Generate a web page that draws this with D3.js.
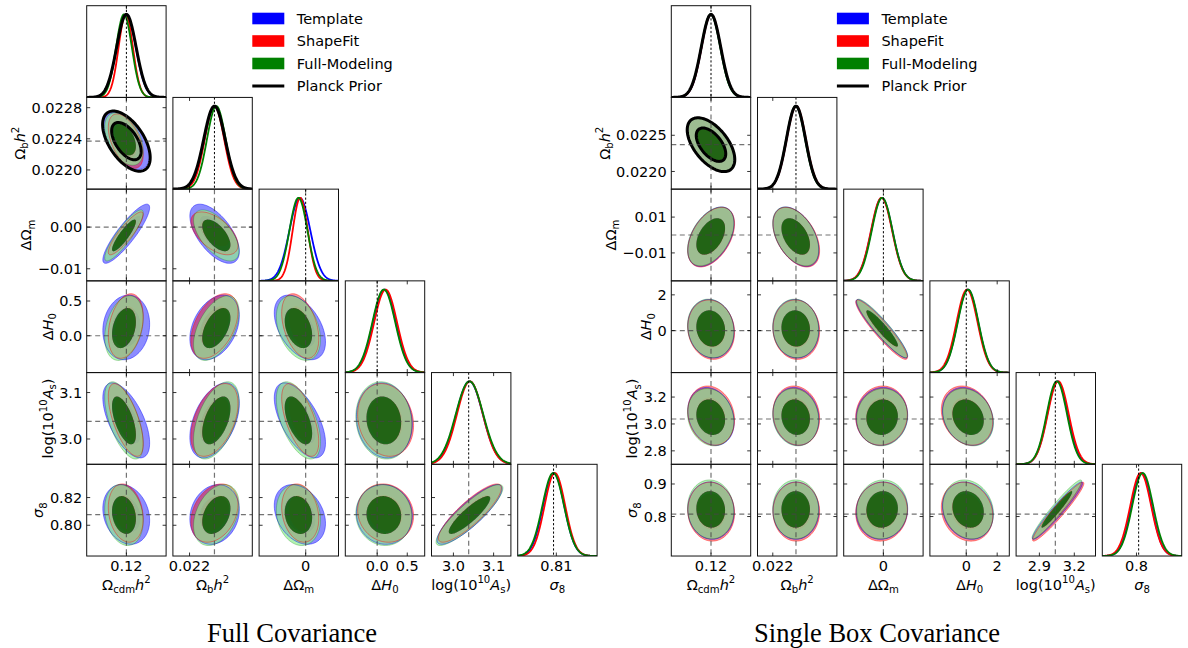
<!DOCTYPE html>
<html><head><meta charset="utf-8">
<script src="https://cdn.jsdelivr.net/npm/d3@7"></script>
<style>body{margin:0;background:#fff} svg{display:block} text{font-family:"DejaVu Sans",sans-serif}</style>
</head><body><svg id="c" width="1188" height="648"></svg>
<script>
// ================= DATA =================
const paramLabels = [
  [["Ω",""],["cdm","sub"],["h","i"],["2","sup"]],
  [["Ω",""],["b","sub"],["h","i"],["2","sup"]],
  [["ΔΩ",""],["m","sub"]],
  [["Δ",""],["H","i"],["0","sub"]],
  [["log(10",""],["10","sup"],["A","i"],["s","sub"],[")",""]],
  [["σ","i"],["8","sub"]]
];
const seriesNames = ["Template", "ShapeFit", "Full-Modeling"];
const seriesColors = ["#0000ff", "#ff0000", "#008000"];
const priorName = "Planck Prior";
// correlation pair order: (0,1),(0,2),(0,3),(0,4),(0,5),(1,2),(1,3),(1,4),(1,5),(2,3),(2,4),(2,5),(3,4),(3,5),(4,5)

// ---- Full Covariance ----
const fullRange = [[0.1151, 0.1249], [0.021753, 0.022932], [-0.0129, 0.0091], [-0.53, 0.79], [2.9455, 3.143], [0.7778, 0.844]];
const fullFiducial = [0.12, 0.02237, 0.0, 0.0, 3.038, 0.8077];
const fullXTicks = [[0.12], [0.022], [0], [0, 0.5], [3.0, 3.1], [0.81]];
const fullXTickLabels = [["0.12"], ["0.022"], ["0"], ["0.0", "0.5"], ["3.0", "3.1"], ["0.81"]];
const fullYTicks = [[], [0.0220, 0.0224, 0.0228], [-0.01, 0.0], [0.0, 0.5], [3.0, 3.1], [0.80, 0.82]];
const fullYTickLabels = [[], ["0.0220", "0.0224", "0.0228"], ["\u22120.01", "0.00"], ["0.0", "0.5"], ["3.0", "3.1"], ["0.80", "0.82"]];
const fullMeanTemplate = [0.11998, 0.022372, -0.0016, 0.12, 3.040, 0.8078];
const fullMeanShapeFit = [0.11992, 0.022370, -0.0015, 0.14, 3.041, 0.8088];
const fullMeanFullModeling = [0.11970, 0.022398, -0.0020, 0.11, 3.040, 0.8074];
const fullSigmaTemplate = [0.00118, 0.000150, 0.0029, 0.19, 0.033, 0.0088];
const fullSigmaShapeFit = [0.00088, 0.000143, 0.0021, 0.19, 0.032, 0.0086];
const fullSigmaFullModeling = [0.00097, 0.000138, 0.0025, 0.19, 0.034, 0.0090];
const fullCorrTemplate = [-0.5, 0.88, 0.1, -0.6, -0.2, -0.6, 0.35, 0.45, 0.15, -0.45, -0.6, -0.3, -0.1, -0.05, 0.86];
const fullCorrShapeFit = [-0.5, 0.88, 0.3, -0.65, -0.2, -0.55, 0.45, 0.45, 0.3, -0.4, -0.6, -0.2, -0.15, -0.1, 0.86];
const fullCorrFullModeling = [-0.45, 0.88, 0.3, -0.6, -0.2, -0.6, 0.5, 0.5, 0.35, -0.35, -0.55, -0.15, -0.1, -0.05, 0.88];
const fullPriorMean = [0.1200, 0.022370];
const fullPriorSigma = [0.00120, 0.000158];
const fullPriorCorr = -0.55;

// ---- Single Box Covariance ----
const singleRange = [[0.1151, 0.1249], [0.021756, 0.023023], [-0.0256, 0.0256], [-2.353, 2.784], [2.70, 3.382], [0.6787, 0.9605]];
const singleFiducial = [0.12, 0.02237, 0.0, 0.0, 3.037, 0.8077];
const singleXTicks = [[0.12], [0.022], [0], [0, 2], [2.9, 3.2], [0.8]];
const singleXTickLabels = [["0.12"], ["0.022"], ["0"], ["0", "2"], ["2.9", "3.2"], ["0.8"]];
const singleYTicks = [[], [0.0220, 0.0225], [-0.01, 0.01], [0, 2], [2.8, 3.0, 3.2], [0.8, 0.9]];
const singleYTickLabels = [[], ["0.0220", "0.0225"], ["\u22120.01", "0.01"], ["0", "2"], ["2.8", "3.0", "3.2"], ["0.8", "0.9"]];
const singleMeanTemplate = [0.12000, 0.022370, -0.0010, 0.10, 3.056, 0.818];
const singleMeanShapeFit = [0.12002, 0.022375, -0.0012, 0.05, 3.062, 0.815];
const singleMeanFullModeling = [0.11996, 0.022365, -0.0008, 0.12, 3.050, 0.822];
const singleSigmaTemplate = [0.00117, 0.000150, 0.0068, 0.67, 0.088, 0.036];
const singleSigmaShapeFit = [0.00118, 0.000152, 0.0068, 0.68, 0.090, 0.037];
const singleSigmaFullModeling = [0.00117, 0.000150, 0.0067, 0.67, 0.087, 0.037];
const singleCorrTemplate = [-0.55, 0.45, -0.1, -0.2, -0.05, -0.45, -0.05, -0.1, 0.0, -0.93, 0.05, 0.05, -0.2, -0.15, 0.96];
const singleCorrShapeFit = [-0.55, 0.45, -0.1, -0.15, -0.05, -0.45, -0.05, -0.1, 0.0, -0.93, 0.05, 0.05, -0.2, -0.15, 0.96];
const singleCorrFullModeling = [-0.55, 0.45, -0.1, -0.15, -0.05, -0.45, -0.05, -0.1, 0.0, -0.93, 0.05, 0.05, -0.2, -0.15, 0.96];
const singlePriorMean = [0.1200, 0.022370];
const singlePriorSigma = [0.00120, 0.000152];
const singlePriorCorr = -0.55;

const captions = ["Full Covariance", "Single Box Covariance"];

// ================= LAYOUT / STYLE =================
const svg = d3.select("#c");
const FS = 14.5;
const panelW = 79.4, colStep = 86.2, rowTop = 5.7, rowStep = 91.72;
const fill95 = ["#0000ff", "#ff0000", "#90ee90"], op95 = [0.45, 0.42, 0.69];
const fill68 = ["#0000ff", "#ff0000", "#007000"], op68 = [0.6, 0.55, 0.82];

const plots = [
  {x0: 86.7, range: fullRange, fid: fullFiducial, xt: fullXTicks, xtl: fullXTickLabels, yt: fullYTicks, ytl: fullYTickLabels,
   means: [fullMeanTemplate, fullMeanShapeFit, fullMeanFullModeling], sig: [fullSigmaTemplate, fullSigmaShapeFit, fullSigmaFullModeling],
   corr: [fullCorrTemplate, fullCorrShapeFit, fullCorrFullModeling], pm: fullPriorMean, ps: fullPriorSigma, pc: fullPriorCorr, cap: captions[0], capX: 292},
  {x0: 671.3, range: singleRange, fid: singleFiducial, xt: singleXTicks, xtl: singleXTickLabels, yt: singleYTicks, ytl: singleYTickLabels,
   means: [singleMeanTemplate, singleMeanShapeFit, singleMeanFullModeling], sig: [singleSigmaTemplate, singleSigmaShapeFit, singleSigmaFullModeling],
   corr: [singleCorrTemplate, singleCorrShapeFit, singleCorrFullModeling], pm: singlePriorMean, ps: singlePriorSigma, pc: singlePriorCorr, cap: captions[1], capX: 877}
];

function pairIndex(a, b) {
  let idx = 0;
  for (let i = 0; i < 6; i++) for (let j = i + 1; j < 6; j++) { if (i === a && j === b) return idx; idx++; }
  return -1;
}

function addMath(t, parts, fs) {
  let cur = 0;
  parts.forEach(([s, st]) => {
    const target = st === "sub" ? 0.24 * fs : st === "sup" ? -0.42 * fs : 0;
    const ts = t.append("tspan").text(s).attr("dy", target - cur);
    cur = target;
    if (st === "sub" || st === "sup") ts.attr("font-size", fs * 0.7);
    if (st === "i") ts.attr("font-style", "italic");
  });
}

function ellipsePts(mx, my, sx, sy, rho, k, xs, ys) {
  const pts = [];
  const r2 = Math.sqrt(Math.max(0, 1 - rho * rho));
  for (let n = 0; n < 120; n++) {
    const t = 2 * Math.PI * n / 120, u = Math.cos(t), v = Math.sin(t);
    pts.push([xs(mx + k * sx * u), ys(my + k * sy * (rho * u + r2 * v))]);
  }
  return pts;
}
const closed = d3.line().curve(d3.curveLinearClosed);

const K68 = Math.sqrt(2.30), K95 = Math.sqrt(5.99);
let clipId = 0;

plots.forEach((P, pi) => {
  const xScale = j => d3.scaleLinear().domain(P.range[j]).range([P.x0 + j * colStep, P.x0 + j * colStep + panelW]);
  const yScale = i => d3.scaleLinear().domain(P.range[i]).range([rowTop + (i + 1) * rowStep, rowTop + i * rowStep]);
  const g = svg.append("g");

  for (let i = 0; i < 6; i++) {
    for (let j = 0; j <= i; j++) {
      const xs = xScale(j);
      const left = P.x0 + j * colStep, top = rowTop + i * rowStep, bottom = top + rowStep;
      const id = "clip" + (clipId++);
      g.append("clipPath").attr("id", id).append("rect").attr("x", left).attr("y", top).attr("width", panelW).attr("height", rowStep);
      const pg = g.append("g").attr("clip-path", `url(#${id})`);
      if (i === j) {
        const ys = d3.scaleLinear().domain([0, 1.105]).range([bottom, top]);
        const [lo, hi] = P.range[j];
        const grid = d3.range(0, 241).map(k => lo + (hi - lo) * k / 240);
        const curve = (m, s) => d3.line().x(d => xs(d)).y(d => ys(Math.exp(-0.5 * ((d - m) / s) ** 2)))(grid);
        for (let s = 0; s < 3; s++) {
          pg.append("path").attr("d", curve(P.means[s][j], P.sig[s][j])).attr("fill", "none")
            .attr("stroke", seriesColors[s]).attr("stroke-width", 1.8);
        }
        if (j < 2) {
          pg.append("path").attr("d", curve(P.pm[j], P.ps[j])).attr("fill", "none").attr("stroke", "#000").attr("stroke-width", 3);
        }
        pg.append("line").attr("x1", xs(P.fid[j])).attr("x2", xs(P.fid[j])).attr("y1", top).attr("y2", bottom)
          .attr("stroke", "#000").attr("stroke-width", 1).attr("stroke-dasharray", "2.2,2");
      } else {
        const ys = yScale(i);
        const pidx = pairIndex(j, i);
        const outlines = [];
        for (let s = 0; s < 3; s++) {
          const m = P.means[s], sg = P.sig[s], rho = P.corr[s][pidx];
          const outer = ellipsePts(m[j], m[i], sg[j], sg[i], rho, K95, xs, ys);
          const inner = ellipsePts(m[j], m[i], sg[j], sg[i], rho, K68, xs, ys);
          pg.append("path").attr("d", closed(outer) + closed(inner.slice().reverse())).attr("fill-rule", "evenodd")
            .attr("fill", fill95[s]).attr("fill-opacity", op95[s]);
          pg.append("path").attr("d", closed(inner)).attr("fill", fill68[s]).attr("fill-opacity", op68[s]);
          outlines.push([outer, s]);
        }
        outlines.forEach(([pts, s]) => {
          pg.append("path").attr("d", closed(pts)).attr("fill", "none")
            .attr("stroke", seriesColors[s]).attr("stroke-opacity", s === 2 ? 0.35 : 0.55).attr("stroke-width", 0.8);
        });
        if (i === 1 && j === 0) {
          [K95, K68].forEach(k => {
            pg.append("path").attr("d", closed(ellipsePts(P.pm[0], P.pm[1], P.ps[0], P.ps[1], P.pc, k, xs, ys)))
              .attr("fill", "none").attr("stroke", "#000").attr("stroke-width", 3);
          });
        }
        pg.append("line").attr("x1", xs(P.fid[j])).attr("x2", xs(P.fid[j])).attr("y1", top).attr("y2", bottom)
          .attr("stroke", "#444").attr("stroke-opacity", 0.75).attr("stroke-width", 1.2).attr("stroke-dasharray", "5,3.5");
        pg.append("line").attr("x1", left).attr("x2", left + panelW).attr("y1", ys(P.fid[i])).attr("y2", ys(P.fid[i]))
          .attr("stroke", "#444").attr("stroke-opacity", 0.75).attr("stroke-width", 1.2).attr("stroke-dasharray", "5,3.5");
        P.yt[i].forEach(t => {
          const y = ys(t);
          g.append("line").attr("x1", left).attr("x2", left + 3.5).attr("y1", y).attr("y2", y).attr("stroke", "#000").attr("stroke-width", 0.8);
          g.append("line").attr("x1", left + panelW - 3.5).attr("x2", left + panelW).attr("y1", y).attr("y2", y).attr("stroke", "#000").attr("stroke-width", 0.8);
        });
      }
      P.xt[j].forEach(t => {
        const x = xs(t);
        g.append("line").attr("x1", x).attr("x2", x).attr("y1", bottom).attr("y2", bottom - 3.5).attr("stroke", "#000").attr("stroke-width", 0.8);
        g.append("line").attr("x1", x).attr("x2", x).attr("y1", top).attr("y2", top + 3.5).attr("stroke", "#000").attr("stroke-width", 0.8);
      });
      g.append("rect").attr("x", left).attr("y", top).attr("width", panelW).attr("height", rowStep)
        .attr("fill", "none").attr("stroke", "#111").attr("stroke-width", 1);

      if (i === 5) {
        P.xt[j].forEach((t, k) => {
          g.append("text").attr("x", xs(t)).attr("y", 571).attr("text-anchor", "middle").attr("font-size", FS).text(P.xtl[j][k]);
        });
        const xl = g.append("text").attr("x", left + panelW / 2).attr("y", 589.5).attr("text-anchor", "middle").attr("font-size", FS);
        addMath(xl, paramLabels[j], FS);
      }
      if (j === 0 && i > 0) {
        const ys = yScale(i);
        let minLeft = left;
        P.yt[i].forEach((t, k) => {
          const tx = g.append("text").attr("x", left - 4.5).attr("y", ys(t) + 5.2).attr("text-anchor", "end").attr("font-size", FS).text(P.ytl[i][k]);
          const w = tx.node().getComputedTextLength();
          minLeft = Math.min(minLeft, left - 4.5 - w);
        });
        const cy = top + rowStep / 2;
        const bx = minLeft - 6.5;
        const yl = g.append("text").attr("transform", `translate(${bx},${cy}) rotate(-90)`).attr("text-anchor", "middle").attr("font-size", FS);
        addMath(yl, paramLabels[i], FS);
      }
    }
  }

  const lx = P.x0 + 165.6;
  const ly = [18.5, 41, 63.5, 86];
  seriesNames.forEach((nm, s) => {
    g.append("rect").attr("x", lx).attr("y", ly[s] - 5.8).attr("width", 32).attr("height", 11.6).attr("fill", seriesColors[s]);
    g.append("text").attr("x", lx + 44.5).attr("y", ly[s] + 5.2).attr("font-size", FS).text(nm);
  });
  g.append("line").attr("x1", lx).attr("x2", lx + 32).attr("y1", ly[3]).attr("y2", ly[3]).attr("stroke", "#000").attr("stroke-width", 3);
  g.append("text").attr("x", lx + 44.5).attr("y", ly[3] + 5.2).attr("font-size", FS).text(priorName);

  g.append("text").attr("x", P.capX).attr("y", 642).attr("text-anchor", "middle")
    .style("font-family", "'Liberation Serif', serif").attr("font-size", 26.5).text(P.cap);
});
</script></body></html>
